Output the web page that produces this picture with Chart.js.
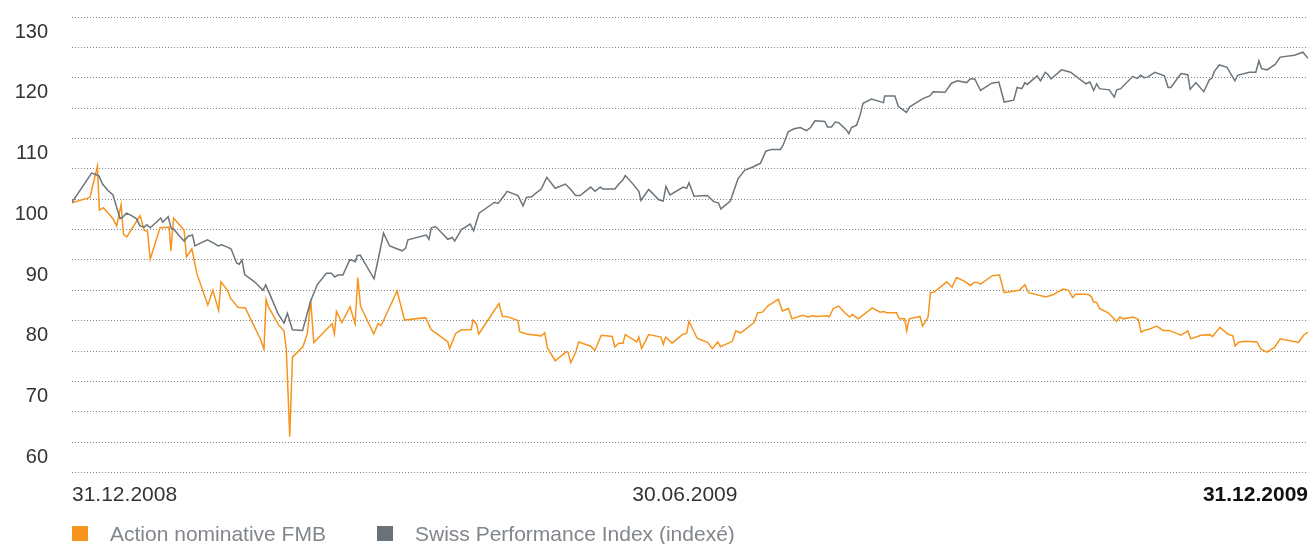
<!DOCTYPE html>
<html>
<head>
<meta charset="utf-8">
<script src="https://cdn.jsdelivr.net/npm/chart.js@4.4.1/dist/chart.umd.min.js"></script>
<style>
  body { margin: 0; background: #fff; }
  #wrap { position: relative; width: 1311px; height: 544px; }
  .key { position: absolute; top: 526px; width: 16px; height: 15px; }
  .lbl { position: absolute; top: 521px; font: 21px "Liberation Sans", Arial, sans-serif; color: #80868b; line-height: 26px; white-space: nowrap; }
</style>
</head>
<body>
<div id="wrap">
  <canvas id="myChart" width="1311" height="544"></canvas>
  <div class="key" style="left:72px;background:#f7941d"></div>
  <div class="lbl" style="left:110px">Action nominative FMB</div>
  <div class="key" style="left:377px;background:#6b7379"></div>
  <div class="lbl" style="left:415px">Swiss Performance Index (indexé)</div>
</div>
<script>
// x = days since 31.12.2008, values indexed
const xTickDays = [0, 181, 365];
const xTickLabels = ['31.12.2008', '30.06.2009', '31.12.2009'];
const yTickValues = [60, 70, 80, 90, 100, 110, 120, 130];

const spiDays = [
  0, 5.8, 6.9, 8.0, 9.0, 10.5, 12.1, 14.2, 14.9, 16.1, 17.6, 19.0, 20.1, 21.3, 22.1, 23.1, 24.9, 26.2, 26.8, 28.4,
  29.3, 30.0, 31.5, 33.1, 34.3, 35.6, 36.3, 38.1, 40.0, 41.7, 43.2, 44.2, 45.9,
  47.0, 48.6, 49.4, 50.2, 51.0, 53.9, 56.4, 57.2, 58.3, 60.8, 62.6, 63.6, 65.1, 68.1, 70.4, 72.4, 75.1, 76.6,
  77.6, 78.5, 80.0, 82.0, 83.0, 83.7, 84.2, 85.1, 89.2, 90.8,
  92.0, 93.8, 97.5, 98.5, 99.2, 104.6, 105.4, 106.1, 107.4, 111.0, 112.3, 113.0, 115.0, 117.6, 118.6, 120.2,
  124.8, 125.8, 127.1, 128.5, 131.7, 133.2, 134.2, 135.7,
  138.6, 140.2, 142.7, 145.7, 147.3, 148.7, 150.0, 153.2, 154.4, 156.0, 156.8, 160.3, 161.5, 162.6, 163.4,
  165.8, 167.4, 168.0, 170.3, 173.3, 174.6, 175.4, 176.6, 180.5, 181.5, 182.2, 183.7,
  187.6, 189.5, 190.9, 191.6, 194.4, 196.7, 198.7, 201.1, 202.8, 203.3, 204.9, 206.6, 209.2, 210.0, 211.5,
  213.2, 215.1, 216.9, 218.1, 219.4, 222.3, 223.1, 224.3, 225.4, 226.4, 228.7,
  229.4, 230.2, 231.7, 232.7, 233.6, 236.1, 239.6, 240.0, 243.0, 244.0, 246.4, 247.4, 251.4, 253.3, 254.3,
  257.8, 259.7, 261.5, 264.2, 265.2, 266.6, 268.3, 271.6, 273.7, 275.3,
  278.1, 279.1, 280.5, 281.4, 282.1, 285.0, 286.0, 287.4, 288.1, 289.1, 292.2, 294.9, 299.4, 300.6, 301.7,
  302.6, 303.4, 306.3, 307.8, 308.5, 309.7, 313.2, 314.6, 315.6, 316.6, 317.6, 319.8,
  322.6, 323.7, 324.5, 327.5, 329.5, 330.2, 331.9, 334.2, 335.9, 336.6, 337.3, 338.8, 341.1, 343.4, 344.2,
  347.7, 349.6, 350.5, 351.3, 352.9, 355.3, 356.8, 361.0, 363.5, 365.0
];
const spiValues = [
  102.0, 106.8, 106.6, 106.3, 105.0, 104.0, 103.2, 99.3, 99.5, 100.2, 99.8, 99.3, 98.1, 97.9, 98.3, 97.8, 98.7, 99.4, 98.7, 99.6,
  97.7, 97.6, 96.6, 95.6, 96.4, 96.6, 94.8, 95.3, 95.8, 95.3, 94.8, 95.0, 94.6,
  94.3, 92.0, 91.8, 92.5, 90.1, 88.9, 87.5, 88.4, 87.0, 83.7, 82.1, 83.7, 81.0, 80.9, 85.6, 88.4, 90.3, 90.3,
  89.7, 90.0, 90.0, 92.5, 92.4, 92.2, 93.2, 93.3, 89.4, 93.6,
  96.9, 94.8, 94.0, 94.4, 95.8, 96.6, 95.9, 97.8, 98.0, 95.9, 96.2, 95.6, 97.5, 98.4, 97.3, 100.2,
  102.0, 101.8, 102.7, 103.8, 103.1, 101.4, 102.8, 102.9,
  104.2, 106.1, 104.3, 105.0, 104.1, 103.1, 103.1, 104.5, 103.8, 104.5, 104.2, 104.2, 105.0, 105.6, 106.4,
  104.9, 103.8, 102.3, 104.1, 102.4, 102.2, 104.6, 103.2, 104.5, 104.3, 105.2, 103.0,
  103.1, 102.1, 101.9, 100.9, 102.2, 105.9, 107.3, 107.8, 108.3, 108.4, 110.4, 110.7, 110.7, 111.4, 113.6,
  114.1, 114.3, 113.8, 114.3, 115.4, 115.3, 114.4, 114.4, 115.2, 115.1, 113.9,
  113.3, 114.3, 114.7, 116.3, 118.3, 119.0, 118.4, 119.5, 119.5, 117.8, 116.8, 117.7, 119.1, 119.5, 120.2,
  120.1, 121.6, 122.0, 121.7, 122.3, 122.3, 120.4, 121.6, 121.8, 118.5,
  118.8, 120.9, 120.7, 121.7, 121.4, 122.8, 122.0, 123.4, 123.1, 122.3, 123.8, 123.4, 121.5, 121.8, 120.4,
  121.5, 120.7, 120.5, 119.3, 120.5, 120.7, 122.7, 122.4, 122.9, 122.5, 122.6, 123.4,
  122.8, 120.9, 120.9, 123.2, 123.0, 120.6, 121.7, 120.2, 122.2, 122.4, 123.5, 124.6, 124.2, 122.0, 122.9,
  123.4, 123.4, 125.3, 124.0, 123.8, 124.7, 125.9, 126.2, 126.7, 125.7
];

const fmbDays = [
  0, 5.3, 7.5, 8.1, 9.3, 10.7, 12.1, 13.2, 14.5, 15.2, 16.2, 20.1, 21.3, 22.3, 23.1, 26.0, 28.7, 29.2, 30.0,
  33.1, 33.8, 35.4, 36.9, 40.1, 41.6, 43.3, 44.0, 45.9,
  46.8, 49.0, 51.2, 52.9, 55.7, 56.7, 57.3, 57.9, 61.0, 62.6, 63.3, 64.3, 65.1, 68.2, 69.5, 70.5, 71.4, 76.8,
  77.5, 78.1, 79.7, 82.1, 83.6, 84.4, 85.2, 89.1, 90.4, 91.3, 92.3,
  96.0, 98.2, 104.4, 106.1, 107.6, 111.0, 111.5, 113.3, 115.0, 117.9, 118.4, 119.4, 120.1, 126.1, 127.1,
  128.3, 131.7, 132.2, 134.2,
  138.6, 139.6, 140.4, 142.7, 146.0, 146.5, 147.3, 148.7, 149.6, 153.2, 154.4, 156.3, 159.5, 160.3, 161.5,
  162.7, 163.4, 166.8, 167.4, 168.2, 170.3, 173.9, 174.6, 175.3, 177.2, 180.5, 181.5, 182.2,
  184.6, 187.8, 189.1, 190.7, 191.5, 195.0, 196.0, 197.5, 201.4, 202.5, 203.9, 205.6, 208.6, 209.8, 211.6,
  212.6, 215.7, 217.4, 218.7, 219.9, 223.0, 223.6, 224.8, 226.4,
  228.2, 229.7, 230.4, 232.2, 236.3, 238.6, 239.8, 240.5, 243.5, 244.3, 245.9, 246.5, 247.2, 250.4, 251.2,
  252.8, 253.5, 254.6, 258.3, 259.9, 261.2, 263.5, 265.3, 266.4, 267.4, 268.3, 271.8, 273.9, 275.3,
  279.7, 281.4, 282.5, 287.6, 289.8, 292.7, 294.3, 295.5, 296.5, 300.2, 301.1, 301.6, 302.6, 303.4, 306.0,
  308.5, 309.5, 310.5, 313.4, 314.9, 315.7, 316.6, 318.1, 320.3,
  322.2, 324.0, 327.5, 329.5, 330.4, 333.4, 335.9, 336.8, 339.0, 341.3, 342.8, 343.5, 344.4, 346.0, 349.9,
  351.1, 352.9, 355.1, 356.8, 362.2, 363.7, 365.0
];
const fmbValues = [
  101.9, 102.8, 107.9, 100.7, 101.1, 100.2, 99.3, 98.1, 101.6, 96.7, 96.3, 99.8, 97.4, 97.2, 92.6, 97.8, 97.9, 94.0, 99.4,
  97.4, 93.0, 94.3, 90.2, 85.1, 87.5, 84.2, 88.9, 87.5,
  86.2, 84.7, 84.6, 82.6, 79.4, 77.8, 86.0, 84.9, 81.8, 80.8, 77.7, 63.4, 76.5, 78.2, 80.4, 85.9, 78.9, 82.0,
  80.3, 84.0, 82.2, 84.8, 82.0, 89.6, 84.9, 80.3, 82.0, 81.7, 82.9,
  87.4, 82.6, 83.0, 81.0, 80.4, 79.0, 77.9, 80.4, 81.0, 81.0, 82.6, 82.0, 80.3, 85.3, 83.2,
  83.2, 82.5, 80.7, 80.3,
  80.0, 80.5, 78.0, 75.9, 77.4, 77.3, 75.6, 77.2, 79.0, 78.3, 77.6, 80.1, 79.9, 78.2, 78.8,
  78.8, 80.2, 79.0, 79.8, 77.9, 80.2, 79.8, 78.6, 79.8, 78.8, 80.3, 80.4, 82.4,
  79.6, 78.9, 77.9, 79.0, 78.2, 79.1, 80.8, 80.5, 82.2, 83.8, 83.9, 85.0, 86.0, 84.1, 84.5,
  82.8, 83.4, 83.1, 83.3, 83.2, 83.3, 83.1, 84.5, 84.9,
  83.8, 83.1, 83.5, 82.8, 84.6, 83.9, 84.0, 83.8, 83.8, 82.8, 82.8, 80.8, 82.8, 83.2, 81.6,
  83.1, 87.1, 87.2, 88.9, 88.0, 89.6, 89.0, 88.3, 88.8, 88.8, 88.5, 89.9, 90.0, 87.1,
  87.5, 88.4, 87.1, 86.4, 86.8, 87.7, 87.5, 86.3, 86.9, 86.8, 86.4, 85.6, 85.5, 84.5, 83.8,
  82.4, 83.1, 82.8, 83.1, 82.7, 80.6, 80.9, 81.1, 81.6,
  80.9, 80.9, 80.1, 80.8, 79.5, 80.1, 80.2, 79.9, 81.4, 80.3, 80.0, 78.3, 78.9, 79.1, 79.0,
  77.8, 77.3, 78.1, 79.5, 78.9, 80.1, 80.6
];

const Y_MIN = 57.5;
const Y_MAX = 132.5;
const gridColor = '#7f868b';
const font = '"Liberation Sans", Arial, Helvetica, sans-serif';

const toPoints = (days, vals) => days.map((d, i) => ({ x: d, y: vals[i] }));

Chart.defaults.font.family = font;

new Chart(document.getElementById('myChart').getContext('2d'), {
    type: 'line',
    data: {
        datasets: [
            { label: 'Swiss Performance Index (indexé)', data: toPoints(spiDays, spiValues),
              borderColor: '#6c757b', borderWidth: 1.5, pointRadius: 0, tension: 0 },
            { label: 'Action nominative FMB', data: toPoints(fmbDays, fmbValues),
              borderColor: '#f7941d', borderWidth: 1.5, pointRadius: 0, tension: 0 }
        ]
    },
    options: {
        responsive: false,
        animation: false,
        devicePixelRatio: 1,
        layout: { padding: { top: 17, right: 3, left: 0, bottom: 0 } },
        plugins: { legend: { display: false }, tooltip: { enabled: false } },
        scales: {
            x: {
                type: 'linear', min: 0, max: 365,
                grid: { display: false, drawTicks: false },
                border: { display: false },
                afterBuildTicks: axis => { axis.ticks = xTickDays.map(v => ({ value: v })); },
                afterFit: axis => { axis.height = 71.5; axis.paddingLeft = 0; axis.paddingRight = 0; },
                ticks: {
                    autoSkip: false, maxRotation: 0, align: 'inner', padding: 10,
                    callback: (v, i) => xTickLabels[i],
                    color: ctx => ctx.index === xTickLabels.length - 1 ? '#111' : '#333',
                    font: ctx => ({ size: 21, weight: ctx.index === xTickLabels.length - 1 ? 'bold' : 'normal' })
                }
            },
            y: {
                min: Y_MIN, max: Y_MAX,
                border: { display: false, dash: [1, 2] },
                grid: {
                    drawTicks: false, lineWidth: 1,
                    color: ctx => (ctx.tick && yTickValues.includes(ctx.tick.value)) ? 'rgba(0,0,0,0)' : gridColor
                },
                afterBuildTicks: axis => {
                    const t = [];
                    for (let v = Y_MIN; v <= Y_MAX + 0.01; v += 5) t.push({ value: v });
                    axis.ticks = t.concat(yTickValues.map(v => ({ value: v })));
                },
                afterFit: axis => { axis.width = 72; axis.paddingTop = 0; axis.paddingBottom = 0; },
                ticks: {
                    autoSkip: false, padding: 24, color: '#333', font: { size: 20 },
                    callback: v => yTickValues.includes(v) ? String(v) : ''
                }
            }
        }
    }
});
</script>
</body>
</html>
